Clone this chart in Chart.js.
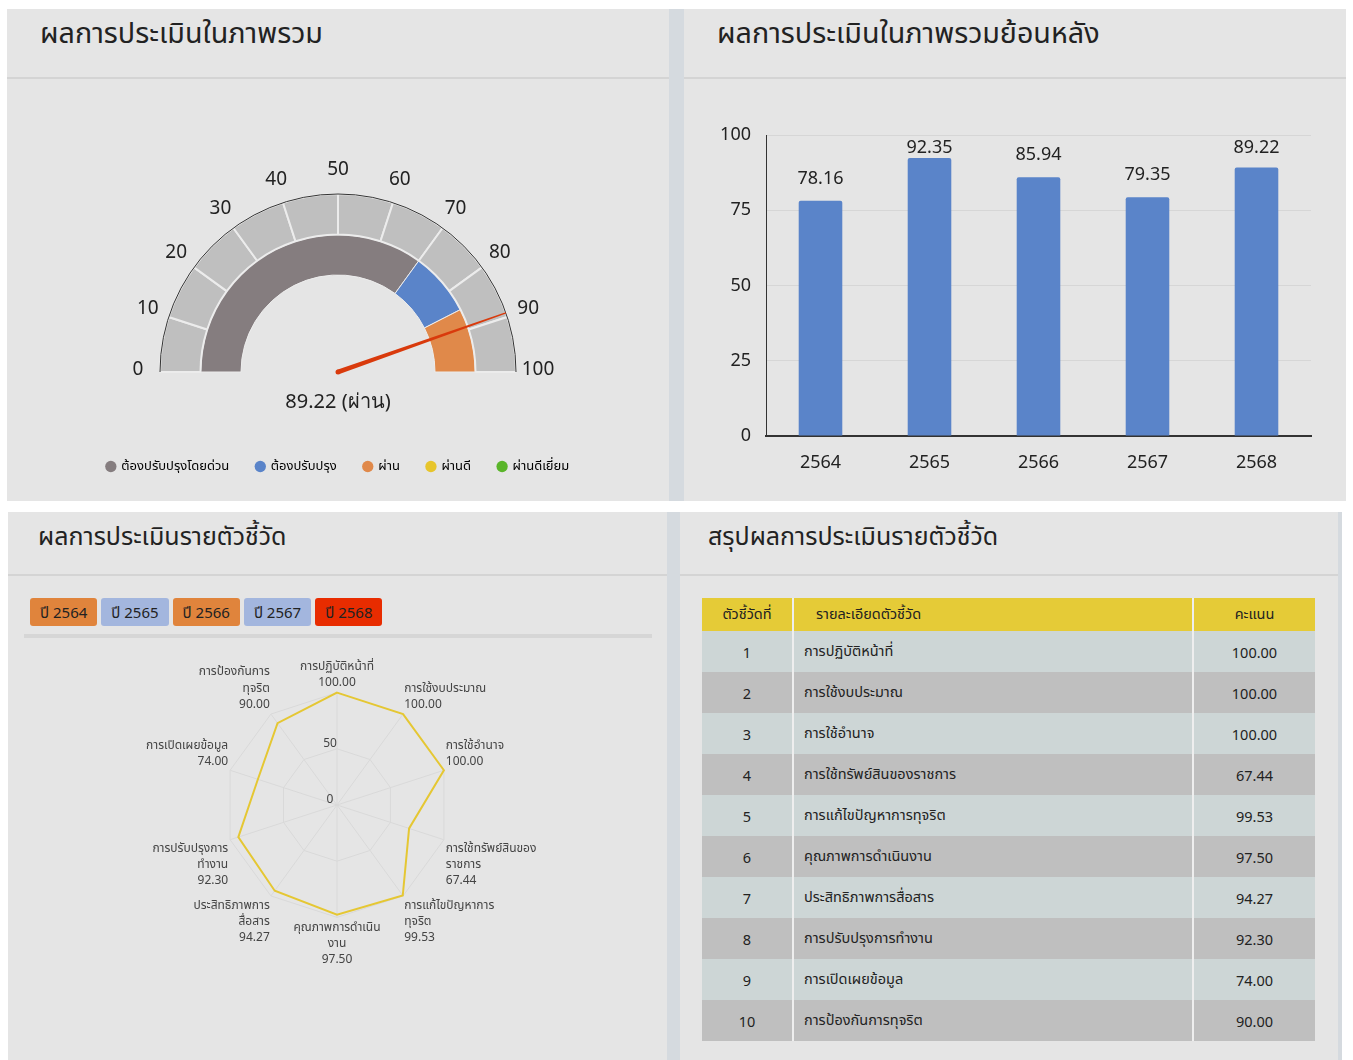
<!DOCTYPE html>
<html>
<head>
<meta charset="utf-8">
<script src="https://cdn.jsdelivr.net/npm/chart.js@4.4.1/dist/chart.umd.min.js"></script>
<style>
  body { margin: 0; background: #fff; font-family: 'Noto Sans', 'Noto Sans Thai', sans-serif; color: #222; }
  .wrap { position: relative; width: 1353px; height: 1060px; overflow: hidden; }
  .panel { position: absolute; background: #e5e5e5; }
  .strip { position: absolute; background: #d5dadf; }
  .title { position: absolute; font-size: 25px; line-height: 30px; color: #222; white-space: nowrap; }
  .title.big { font-size: 28.7px; }
  .sep { position: absolute; height: 2px; background: #d4d4d4; }
  .box { position: absolute; }
  .btns { position: absolute; left: 30px; top: 598px; display: flex; gap: 4px; }
  .btns span { display: inline-block; height: 28px; line-height: 28px; padding: 0 10px; border-radius: 3px; font-size: 15px; color: #222; }
  .bar2 { position: absolute; left: 24px; top: 634px; width: 628px; height: 4px; background: #d6d6d6; }
  table { position: absolute; left: 702px; top: 598px; width: 613px; border-collapse: collapse; font-size: 14.5px; color: #222; }
  th { background: #e5cb37; height: 33px; font-weight: normal; padding: 0; }
  td { height: 41px; padding: 0; }
  th + th, td + td { border-left: 2px solid #eee; }
  tr.odd td { background: #cdd6d6; }
  tr.even td { background: #bfbfbf; }
  .c { text-align: center; }
  .l { text-align: left; padding-left: 10px; }
</style>
</head>
<body>
<div class="wrap">
  <div class="panel" style="left:7px;top:9px;width:662px;height:492px"></div>
  <div class="strip" style="left:669px;top:9px;width:15px;height:492px"></div>
  <div class="panel" style="left:684px;top:9px;width:662px;height:492px"></div>
  <div class="panel" style="left:8px;top:512px;width:659px;height:548px"></div>
  <div class="strip" style="left:667px;top:512px;width:13px;height:548px"></div>
  <div class="panel" style="left:680px;top:512px;width:658px;height:548px"></div>
  <div class="strip" style="left:1338px;top:512px;width:4px;height:548px"></div>

  <div class="title big" style="left:40px;top:17px">ผลการประเมินในภาพรวม</div>
  <div class="sep" style="left:7px;top:77px;width:662px"></div>
  <div class="title big" style="left:717px;top:17px">ผลการประเมินในภาพรวมย้อนหลัง</div>
  <div class="sep" style="left:684px;top:77px;width:662px"></div>
  <div class="title" style="left:38px;top:520px">ผลการประเมินรายตัวชี้วัด</div>
  <div class="sep" style="left:8px;top:574px;width:659px"></div>
  <div class="title" style="left:708px;top:520px">สรุปผลการประเมินรายตัวชี้วัด</div>
  <div class="sep" style="left:680px;top:574px;width:658px"></div>

  <div class="box" style="left:7px;top:79px;width:662px;height:421px"><canvas id="gauge"></canvas></div>
  <div class="box" style="left:684px;top:79px;width:662px;height:421px"><canvas id="history"></canvas></div>
  <div class="btns" id="btns"></div>
  <div class="bar2"></div>
  <div class="box" style="left:8px;top:640px;width:659px;height:420px"><canvas id="radar"></canvas></div>
  <table id="summary"></table>
</div>
<script>
// overall gauge
const gaugeTicks = [0, 10, 20, 30, 40, 50, 60, 70, 80, 90, 100];
const levelNames = ['ต้องปรับปรุงโดยด่วน', 'ต้องปรับปรุง', 'ผ่าน', 'ผ่านดี', 'ผ่านดีเยี่ยม'];
const levelColors = ['#857d7f', '#5a84c9', '#e0894a', '#e7c52c', '#5ab52a'];
const levelBands = [70, 15, 15, 0, 0];
const overallScore = 89.22;
const overallLevel = 'ผ่าน';

// history by year
const years = ['2564', '2565', '2566', '2567', '2568'];
const yearScores = [78.16, 92.35, 85.94, 79.35, 89.22];
const yearButtonColors = ['#e0843c', '#a3b6de', '#e0843c', '#a3b6de', '#e82c00'];

// indicators
const indicatorNos = [1, 2, 3, 4, 5, 6, 7, 8, 9, 10];
const indicatorNames = [
  'การปฏิบัติหน้าที่', 'การใช้งบประมาณ', 'การใช้อำนาจ', 'การใช้ทรัพย์สินของราชการ',
  'การแก้ไขปัญหาการทุจริต', 'คุณภาพการดำเนินงาน', 'ประสิทธิภาพการสื่อสาร',
  'การปรับปรุงการทำงาน', 'การเปิดเผยข้อมูล', 'การป้องกันการทุจริต'
];
const indicatorScores = [100, 100, 100, 67.44, 99.53, 97.50, 94.27, 92.30, 74.00, 90.00];
const radarLabelLines = [
  ['การปฏิบัติหน้าที่'], ['การใช้งบประมาณ'], ['การใช้อำนาจ'], ['การใช้ทรัพย์สินของ', 'ราชการ'],
  ['การแก้ไขปัญหาการ', 'ทุจริต'], ['คุณภาพการดำเนิน', 'งาน'], ['ประสิทธิภาพการ', 'สื่อสาร'],
  ['การปรับปรุงการ', 'ทำงาน'], ['การเปิดเผยข้อมูล'], ['การป้องกันการ', 'ทุจริต']
];
const radarTicks = [0, 50, 100];

Chart.defaults.font.family = "'Noto Sans', 'Noto Sans Thai', sans-serif";
Chart.defaults.color = '#222';
Chart.defaults.animation = false;
Chart.defaults.plugins.tooltip.enabled = false;

// --- gauge decorations: rim, tick numbers, needle, value ---
const gaugeDecor = {
  id: 'gaugeDecor',
  afterDatasetsDraw(chart) {
    const arcs = chart.getDatasetMeta(0).data;
    const cx = arcs[0].x, cy = arcs[0].y, r = arcs[0].outerRadius;
    const a0 = arcs[0].startAngle, a1 = arcs[arcs.length - 1].endAngle;
    const lo = gaugeTicks[0], hi = gaugeTicks[gaugeTicks.length - 1];
    const angleOf = v => a0 + (v - lo) / (hi - lo) * (a1 - a0);
    const ctx = chart.ctx;
    ctx.save();
    ctx.beginPath();
    ctx.arc(cx, cy, r, a0, a1);
    ctx.strokeStyle = '#333';
    ctx.lineWidth = 1;
    ctx.stroke();

    ctx.font = '19px "Noto Sans"';
    ctx.fillStyle = '#222';
    ctx.textAlign = 'center';
    ctx.textBaseline = 'middle';
    gaugeTicks.forEach(t => {
      const a = angleOf(t);
      ctx.fillText(String(t), cx + Math.cos(a) * (r + 22), cy + Math.sin(a) * (r + 22) - 2);
    });

    const a = angleOf(overallScore);
    const tx = cx + Math.cos(a) * r, ty = cy + Math.sin(a) * r;
    const nx = -Math.sin(a), ny = Math.cos(a);
    ctx.fillStyle = '#d93a0c';
    ctx.beginPath();
    ctx.moveTo(cx + nx * 2.5, cy + ny * 2.5);
    ctx.lineTo(tx + nx * 0.7, ty + ny * 0.7);
    ctx.lineTo(tx - nx * 0.7, ty - ny * 0.7);
    ctx.lineTo(cx - nx * 2.5, cy - ny * 2.5);
    ctx.closePath();
    ctx.fill();
    ctx.beginPath();
    ctx.arc(cx, cy, 2.5, 0, Math.PI * 2);
    ctx.fill();

    ctx.font = '20px "Noto Sans"';
    ctx.fillStyle = '#222';
    ctx.fillText(overallScore.toFixed(2) + ' (' + overallLevel + ')', cx, cy + 30);
    ctx.restore();
  }
};

new Chart(document.getElementById('gauge'), {
  type: 'doughnut',
  data: {
    labels: gaugeTicks.slice(1).map(String),
    datasets: [
      {
        data: gaugeTicks.slice(1).map((t, i) => t - gaugeTicks[i]),
        backgroundColor: '#bfbfbf',
        borderColor: '#ececec',
        borderWidth: 2
      },
      {
        data: levelBands,
        backgroundColor: levelColors,
        borderColor: '#ececec',
        borderWidth: 1
      }
    ]
  },
  options: {
    responsive: true,
    maintainAspectRatio: false,
    rotation: -90,
    circumference: 180,
    radius: 178,
    cutout: '54.5%',
    layout: { padding: { top: 54, bottom: 17 } },
    plugins: {
      legend: {
        position: 'bottom',
        onClick: null,
        labels: {
          usePointStyle: true,
          pointStyle: 'circle',
          boxWidth: 8,
          boxHeight: 8,
          padding: 27,
          color: '#333',
          font: { size: 13 },
          generateLabels: () => levelNames.map((n, i) => ({
            text: n, fillStyle: levelColors[i], strokeStyle: levelColors[i],
            lineWidth: 0, pointStyle: 'circle', hidden: false, index: i
          }))
        }
      }
    }
  },
  plugins: [gaugeDecor]
});

// --- history bars ---
const barValues = {
  id: 'barValues',
  afterDatasetsDraw(chart) {
    const ctx = chart.ctx;
    const top = chart.chartArea.top + 13;
    ctx.save();
    ctx.font = '18px "Noto Sans"';
    ctx.fillStyle = '#222';
    ctx.textAlign = 'center';
    ctx.textBaseline = 'middle';
    chart.getDatasetMeta(0).data.forEach((bar, i) => {
      ctx.fillText(yearScores[i].toFixed(2), bar.x, Math.max(bar.y - 22, top));
    });
    ctx.restore();
  }
};

new Chart(document.getElementById('history'), {
  type: 'bar',
  data: {
    labels: years,
    datasets: [{
      data: yearScores,
      backgroundColor: '#5a84c9',
      borderRadius: 2,
      categoryPercentage: 1,
      barPercentage: 0.4
    }]
  },
  options: {
    responsive: true,
    maintainAspectRatio: false,
    layout: { padding: { top: 56, right: 35, bottom: 0, left: 0 } },
    plugins: { legend: { display: false } },
    scales: {
      x: {
        grid: { display: false },
        border: { color: '#333', width: 2 },
        ticks: { font: { size: 18 }, color: '#222', padding: 8 },
        afterFit: s => { s.height = 64; }
      },
      y: {
        min: 0,
        max: 100,
        ticks: { stepSize: 25, font: { size: 18 }, color: '#222', padding: 15 },
        grid: { color: '#d6d6d6', drawTicks: false },
        border: { color: '#333', width: 1 },
        afterFit: s => { s.width = 82; }
      }
    }
  },
  plugins: [barValues]
});

// --- year buttons ---
const btns = document.getElementById('btns');
years.forEach((y, i) => {
  const s = document.createElement('span');
  s.textContent = 'ปี ' + y;
  s.style.background = yearButtonColors[i];
  btns.appendChild(s);
});

// --- radar: tick numbers drawn slightly off the axis like the original ---
const radarTickText = {
  id: 'radarTickText',
  afterDraw(chart) {
    const s = chart.scales.r;
    const ctx = chart.ctx;
    ctx.save();
    ctx.font = '12px "Noto Sans"';
    ctx.fillStyle = '#444';
    ctx.textAlign = 'center';
    ctx.textBaseline = 'middle';
    radarTicks.slice(0, -1).forEach(t => {
      const p = s.getPointPositionForValue(0, t);
      ctx.fillText(String(t), p.x - 7, p.y - 5);
    });
    ctx.restore();
  }
};

new Chart(document.getElementById('radar'), {
  type: 'radar',
  data: {
    labels: indicatorNames,
    datasets: [{
      data: indicatorScores,
      borderColor: '#e5c733',
      borderWidth: 2,
      pointRadius: 0,
      fill: false
    }]
  },
  options: {
    responsive: true,
    maintainAspectRatio: false,
    layout: { padding: { top: 11, bottom: 83, left: 0, right: 0 } },
    plugins: { legend: { display: false } },
    scales: {
      r: {
        min: radarTicks[0],
        max: radarTicks[radarTicks.length - 1],
        ticks: { stepSize: 50, display: false },
        grid: { color: '#d9d9d9' },
        angleLines: { color: '#d9d9d9' },
        pointLabels: {
          color: '#444',
          font: { size: 12, lineHeight: 1.35 },
          padding: 2,
          callback: (l, i) => radarLabelLines[i].concat([indicatorScores[i].toFixed(2)])
        }
      }
    }
  },
  plugins: [radarTickText]
});

// --- summary table ---
const tbl = document.getElementById('summary');
let html = '<colgroup><col style="width:91px"><col style="width:400px"><col style="width:122px"></colgroup>' +
  '<tr><th class="c">ตัวชี้วัดที่</th><th class="l" style="padding-left:22px">รายละเอียดตัวชี้วัด</th><th class="c">คะแนน</th></tr>';
indicatorNos.forEach((n, i) => {
  html += '<tr class="' + (i % 2 ? 'even' : 'odd') + '"><td class="c">' + n + '</td><td class="l">' +
    indicatorNames[i] + '</td><td class="c">' + indicatorScores[i].toFixed(2) + '</td></tr>';
});
tbl.innerHTML = html;
</script>
</body>
</html>
